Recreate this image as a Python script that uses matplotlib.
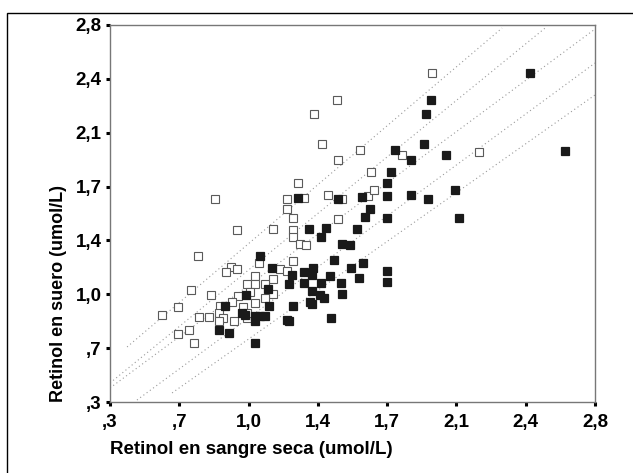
import numpy as np
import matplotlib
matplotlib.use('Agg')
import matplotlib.pyplot as plt
from matplotlib.patches import Rectangle

plt.rcParams['font.family'] = ['Liberation Sans', 'DejaVu Sans']

# open squares
open_x = [1.959, 1.468, 1.349, 1.391, 1.588, 1.474, 1.805, 2.200, 1.645, 1.268,
          0.843, 1.210, 1.301, 1.422, 1.497, 1.628, 1.659, 1.210, 1.241, 1.474,
          0.954, 1.141, 1.241, 1.241, 1.280, 1.311, 0.756, 1.241, 1.068, 0.924,
          0.954, 0.899, 1.178, 1.210, 1.045, 1.008, 1.049, 1.141, 1.101, 0.720,
          0.820, 0.962, 1.024, 1.141, 1.101, 0.927, 1.045, 0.650, 0.868, 0.983,
          0.566, 0.760, 0.810, 0.864, 0.883, 0.941, 1.004, 0.860, 0.708, 0.652,
          0.735, 1.008]
open_y = [2.484, 2.301, 2.208, 2.009, 1.970, 1.903, 1.936, 1.959, 1.824, 1.749,
          1.649, 1.649, 1.654, 1.674, 1.649, 1.665, 1.705, 1.579, 1.521, 1.515,
          1.442, 1.448, 1.442, 1.393, 1.347, 1.342, 1.267, 1.235, 1.221, 1.192,
          1.181, 1.159, 1.181, 1.172, 1.137, 1.084, 1.084, 1.117, 1.084, 1.044,
          1.007, 1.005, 1.031, 1.013, 0.987, 0.963, 0.954, 0.932, 0.934, 0.932,
          0.874, 0.861, 0.861, 0.890, 0.856, 0.839, 0.856, 0.834, 0.777, 0.751,
          0.691, 0.890]

# filled squares
fill_x = [2.467, 2.646, 1.957, 1.930, 1.919, 1.768, 2.032, 1.853, 1.749, 1.728,
          1.728, 1.853, 1.940, 2.076, 2.101, 1.728, 1.641, 1.614, 1.597, 1.474,
          1.270, 1.328, 1.412, 1.387, 1.574, 1.495, 1.536, 1.072, 1.453, 1.603,
          1.541, 1.135, 1.345, 1.299, 1.339, 1.239, 1.432, 1.586, 1.730, 1.730,
          1.222, 1.299, 1.387, 1.493, 1.114, 1.341, 1.383, 1.403, 1.496, 1.001,
          1.333, 1.341, 0.893, 1.118, 1.241, 0.979, 0.996, 1.045, 1.074, 1.099,
          1.045, 1.210, 1.225, 1.437, 0.864, 0.912, 1.045]
fill_y = [2.484, 1.963, 2.303, 2.210, 2.012, 1.974, 1.936, 1.906, 1.824, 1.751,
          1.667, 1.674, 1.649, 1.707, 1.519, 1.519, 1.581, 1.524, 1.658, 1.649,
          1.652, 1.444, 1.451, 1.393, 1.444, 1.351, 1.342, 1.267, 1.239, 1.221,
          1.188, 1.188, 1.186, 1.164, 1.144, 1.141, 1.133, 1.122, 1.170, 1.093,
          1.082, 1.088, 1.088, 1.088, 1.049, 1.033, 1.007, 0.989, 1.015, 1.009,
          0.963, 0.951, 0.938, 0.934, 0.938, 0.892, 0.879, 0.868, 0.868, 0.868,
          0.834, 0.841, 0.834, 0.856, 0.779, 0.755, 0.693]

# dotted fit / band lines, start and end points
line_x0 = [0.388, 0.300, 0.300, 0.439, 0.620]
line_y0 = [0.665, 0.426, 0.393, 0.313, 0.360]
line_x1 = [2.321, 2.543, 2.800, 2.800, 2.800]
line_y1 = [2.780, 2.780, 2.773, 2.548, 2.336]

ticks = np.linspace(0.3, 2.8, 8)
tick_labels = [',3', ',7', '1,0', '1,4', '1,7', '2,1', '2,4', '2,8']


def main():
    fig = plt.figure(figsize=(6.33, 4.73), dpi=100)

    # outer frame (only top and left edge fall inside the picture)
    frame = Rectangle((7 / 633, -0.2), 1.2, 1 - 12.5 / 473 + 0.2,
                      transform=fig.transFigure, fill=False,
                      edgecolor='black', linewidth=1.0)
    fig.patches.append(frame)

    ax = fig.add_axes([110 / 633, 1 - 402 / 473, 485 / 633, 377 / 473])

    for x0, y0, x1, y1 in zip(line_x0, line_y0, line_x1, line_y1):
        ax.plot([x0, x1], [y0, y1], color='#9a9a9a', linewidth=0.8,
                linestyle=(0, (1, 2.6)), zorder=2)

    ax.plot(open_x, open_y, 's', markersize=6.3, markerfacecolor='white',
            markeredgecolor='#5a5a5a', markeredgewidth=0.8, zorder=3)
    ax.plot(fill_x, fill_y, 's', markersize=6.3, markerfacecolor='#1a1a1a',
            markeredgecolor='#1a1a1a', markeredgewidth=0.9, zorder=4)

    ax.set_xlim(0.3, 2.8)
    ax.set_ylim(0.3, 2.8)
    ax.set_xticks(ticks)
    ax.set_xticklabels(tick_labels)
    ax.set_yticks(ticks)
    ax.set_yticklabels(tick_labels)

    for side in ax.spines.values():
        side.set_color('#777777')
        side.set_linewidth(1.0)

    ax.tick_params(axis='both', direction='out', length=3, width=2.2,
                   color='black', labelsize=13.5, pad=3)
    ax.tick_params(axis='x', pad=6)
    for lab in ax.get_xticklabels() + ax.get_yticklabels():
        lab.set_fontweight('bold')

    ax.set_xlabel('Retinol en sangre seca (umol/L)', fontsize=13.5,
                  fontweight='bold', loc='left', labelpad=7)
    ax.set_ylabel('Retinol en suero (umol/L)', fontsize=13,
                  fontweight='bold', loc='bottom', labelpad=6)

    fig.savefig('out.png', dpi=100)


if __name__ == '__main__':
    main()
